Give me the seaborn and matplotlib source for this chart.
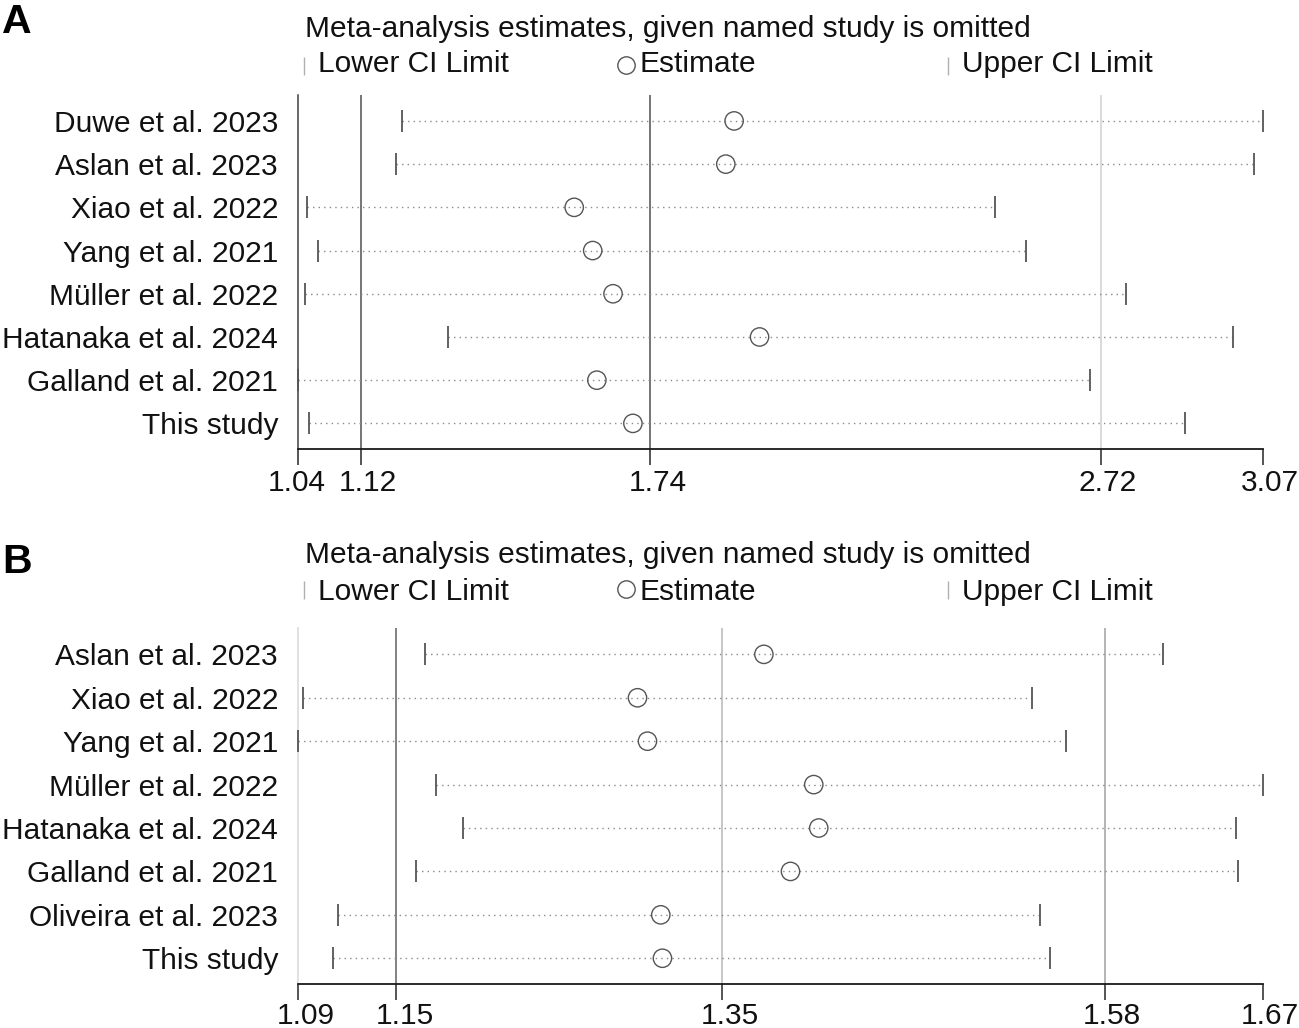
import numpy as np
import pandas as pd
import matplotlib
matplotlib.use("Agg")
import matplotlib.pyplot as plt
import matplotlib.transforms as mtransforms
from matplotlib.lines import Line2D
import seaborn as sns

# ---------------- data ----------------
title_text = "Meta-analysis estimates, given named study is omitted"
legend_labels = ["Lower CI Limit", "Estimate", "Upper CI Limit"]

studies_A = ["Duwe et al. 2023", "Aslan et al. 2023", "Xiao et al. 2022", "Yang et al. 2021",
             "Müller et al. 2022", "Hatanaka et al. 2024", "Galland et al. 2021", "This study"]
est_A = [1.925, 1.907, 1.579, 1.619, 1.663, 1.980, 1.628, 1.706]
lower_A = [1.206, 1.193, 1.001, 1.025, 0.997, 1.305, 0.982, 1.005]
upper_A = [3.070, 3.050, 2.489, 2.556, 2.773, 3.004, 2.695, 2.901]
overall_A = [1.118, 1.743, 2.719]          # lower CI, estimate, upper CI
ticklabels_A = ["1.04", "1.12", "1.74", "2.72", "3.07"]

studies_B = ["Aslan et al. 2023", "Xiao et al. 2022", "Yang et al. 2021", "Müller et al. 2022",
             "Hatanaka et al. 2024", "Galland et al. 2021", "Oliveira et al. 2023", "This study"]
est_B = [1.373, 1.297, 1.303, 1.403, 1.406, 1.389, 1.311, 1.312]
lower_B = [1.169, 1.096, 1.093, 1.176, 1.192, 1.164, 1.117, 1.114]
upper_B = [1.613, 1.534, 1.555, 1.673, 1.657, 1.658, 1.539, 1.545]
overall_B = [1.152, 1.348, 1.578]
ticklabels_B = ["1.09", "1.15", "1.35", "1.58", "1.67"]

# ---------------- style ----------------
sns.set_theme(style="white")
plt.rcParams["font.family"] = ["Liberation Sans", "DejaVu Sans"]
FS = 21.5
TXT = "#111111"

W, H = 1299, 1028
fig = plt.figure(figsize=(W / 100, H / 100), dpi=100)
fig.patch.set_facecolor("white")


def fx(px):
    return px / W


def fy(py):
    return 1 - py / H


panels = [
    dict(letter="A", studies=studies_A, est=est_A, lo=lower_A, hi=upper_A, overall=overall_A,
         labels=ticklabels_A, box=(298.3, 95.0, 1263.3, 449.3),
         letter_y=33.0, title_y=37.3, legend_y=71.7, legend_mark_y=66.0, xpad=3.0,
         vline_colors=["#505050", "#505050", "#cfcfcf"], left_color="#404040",
         tick_colors=["#404040", "#505050", "#505050", "#cfcfcf", "#dddddd"],
         label_shift=[-2, 7, 8, 7, 7]),
    dict(letter="B", studies=studies_B, est=est_B, lo=lower_B, hi=upper_B, overall=overall_B,
         labels=ticklabels_B, box=(298.3, 628.3, 1262.7, 984.3),
         letter_y=573.3, title_y=563.3, legend_y=600.0, legend_mark_y=590.0, xpad=1.2,
         vline_colors=["#606060", "#b8b8b8", "#a0a0a0"], left_color="#d8d8d8",
         tick_colors=["#d0d0d0", "#606060", "#b8b8b8", "#808080", "#404040"],
         label_shift=[7, 8, 8, 7, 7]),
]

for p in panels:
    x0, y0, x1, y1 = p["box"]
    ax = fig.add_axes([fx(x0), fy(y1), fx(x1) - fx(x0), (y1 - y0) / H])
    n = len(p["studies"])
    df = pd.DataFrame({"study": p["studies"], "pos": np.arange(n),
                       "est": p["est"], "lo": p["lo"], "hi": p["hi"]})

    xmin, xmax = min(p["lo"]), max(p["hi"])
    ax.set_xlim(xmin, xmax)
    ax.set_ylim(n - 0.4, -0.6)

    # reference lines (overall lower CI, estimate, upper CI)
    for v, c in zip(p["overall"], p["vline_colors"]):
        ax.axvline(v, color=c, lw=1.1, zorder=1)

    # dotted CI lines
    ax.hlines(df["pos"], df["lo"], df["hi"], colors="#8a8a8a", lw=1.0,
              linestyles=(0, (1, 3)), zorder=2)

    # CI end marks
    for col in ["lo", "hi"]:
        sns.scatterplot(data=df, x=col, y="pos", ax=ax, marker="|", s=15.6 ** 2,
                        color="#555555", linewidth=1.3, zorder=3, clip_on=False, legend=False)

    # estimates
    sns.scatterplot(data=df, x="est", y="pos", ax=ax, marker="o", s=13.2 ** 2,
                    color="#555555", linewidth=1.0, zorder=4, legend=False)
    coll = ax.collections[-1]
    coll.set_facecolor("none")
    coll.set_edgecolor("#555555")

    # axes styling
    for s in ["top", "right"]:
        ax.spines[s].set_visible(False)
    ax.spines["left"].set_color(p["left_color"])
    ax.spines["left"].set_linewidth(1.1)
    ax.spines["bottom"].set_color("#1a1a1a")
    ax.spines["bottom"].set_linewidth(1.3)

    ticks = [xmin] + list(p["overall"]) + [xmax]
    ax.set_xticks(ticks)
    ax.set_xticklabels(p["labels"])
    ax.tick_params(axis="x", length=11.5, width=1.1, pad=p["xpad"], labelsize=FS,
                   labelcolor=TXT, bottom=True)
    for t, c in zip(ax.xaxis.get_major_ticks(), p["tick_colors"]):
        t.tick1line.set_color(c)
    for lab, dx in zip(ax.get_xticklabels(), p["label_shift"]):
        off = mtransforms.ScaledTranslation(dx / 100, 0, fig.dpi_scale_trans)
        lab.set_transform(lab.get_transform() + off)

    ax.set_yticks(df["pos"])
    ax.set_yticklabels(p["studies"])
    ax.tick_params(axis="y", length=0, pad=14.6, labelsize=FS, labelcolor=TXT, left=False)
    ax.set_xlabel("")
    ax.set_ylabel("")
    ax.grid(False)
    ax.set_facecolor("white")

    # panel letter
    fig.text(fx(2), fy(p["letter_y"]), p["letter"], fontsize=29.5, fontweight="bold",
             color="#000000", ha="left", va="baseline")
    # title
    fig.text(fx(305), fy(p["title_y"]), title_text, fontsize=FS, color=TXT,
             ha="left", va="baseline")

    # legend (Stata style, three equal columns)
    ly = p["legend_y"]
    my = p["legend_mark_y"]
    fig.add_artist(Line2D([fx(303.5)], [fy(my)], transform=fig.transFigure, marker="|",
                          markersize=13, markeredgewidth=1.0, color="#b0b0b0", linestyle="none"))
    fig.text(fx(318), fy(ly), legend_labels[0], fontsize=FS, color=TXT, ha="left", va="baseline")
    fig.add_artist(Line2D([fx(626)], [fy(my - 1)], transform=fig.transFigure, marker="o",
                          markersize=12.5, markeredgewidth=1.0, markerfacecolor="none",
                          markeredgecolor="#555555", linestyle="none"))
    fig.text(fx(640), fy(ly), legend_labels[1], fontsize=FS, color=TXT, ha="left", va="baseline")
    fig.add_artist(Line2D([fx(948)], [fy(my)], transform=fig.transFigure, marker="|",
                          markersize=13, markeredgewidth=1.0, color="#b0b0b0", linestyle="none"))
    fig.text(fx(962), fy(ly), legend_labels[2], fontsize=FS, color=TXT, ha="left", va="baseline")

fig.savefig("out.png", dpi=100, facecolor="white")
